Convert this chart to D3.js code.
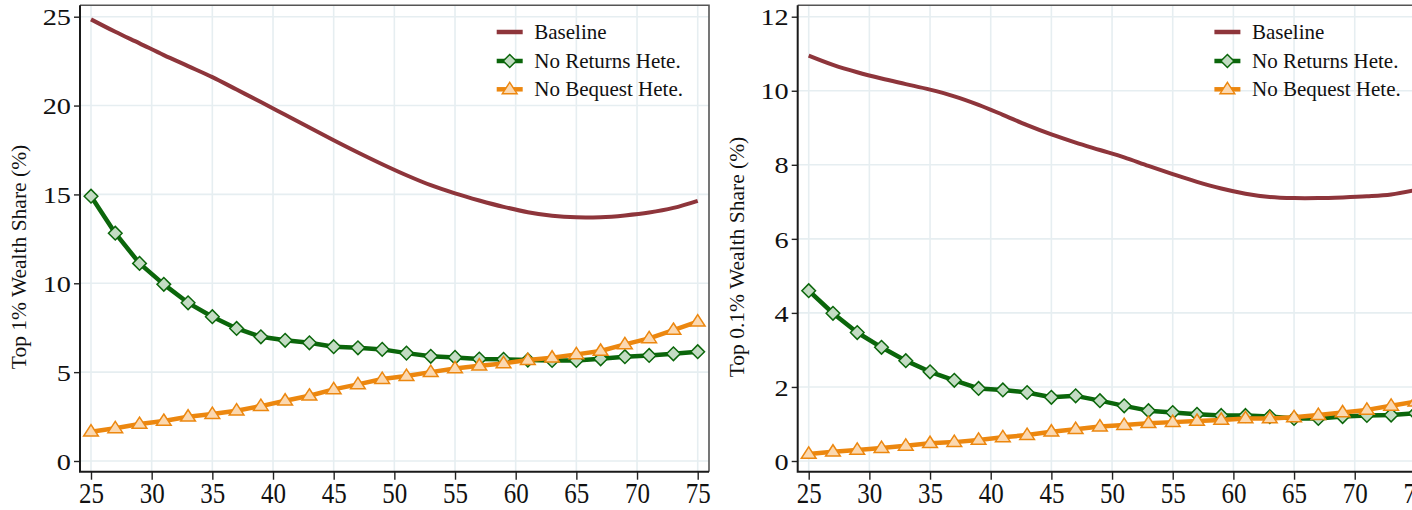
<!DOCTYPE html>
<html>
<head>
<meta charset="utf-8">
<script src="https://cdn.jsdelivr.net/npm/d3@7"></script>
<style>
  body { margin: 0; background: #fff; }
  svg { display: block; }
  text { font-family: "Liberation Serif", "Times New Roman", serif; fill: #111; }
</style>
</head>
<body>
<div id='chart'></div>

<script>
  // ages on the x axis (markers every 2 years)
  var ages = [25, 27, 29, 31, 33, 35, 37, 39, 41, 43, 45, 47, 49, 51, 53, 55, 57, 59, 61, 63, 65, 67, 69, 71, 73, 75]

  // left panel: top 1% wealth share
  var top1Baseline  = [24.85, 24.15, 23.5, 22.84, 22.22, 21.6, 20.9, 20.2, 19.48, 18.76, 18.05, 17.36, 16.7,
                       16.08, 15.52, 15.06, 14.66, 14.3, 14.0, 13.8, 13.71, 13.72, 13.82, 13.98, 14.24, 14.64]
  var top1NoReturns = [14.9, 12.82, 11.12, 9.94, 8.9, 8.12, 7.46, 6.99, 6.79, 6.65, 6.43, 6.37, 6.28,
                       6.07, 5.89, 5.83, 5.74, 5.72, 5.68, 5.66, 5.66, 5.75, 5.87, 5.94, 6.03, 6.15]
  var top1NoBequest = [1.65, 1.84, 2.08, 2.25, 2.49, 2.64, 2.83, 3.09, 3.39, 3.67, 4.03, 4.31, 4.61,
                       4.78, 5.0, 5.21, 5.36, 5.49, 5.68, 5.81, 6.0, 6.19, 6.56, 6.9, 7.37, 7.84]

  // right panel: top 0.1% wealth share
  var top01Baseline  = [10.95, 10.7, 10.5, 10.33, 10.18, 10.03, 9.85, 9.62, 9.35, 9.07, 8.82, 8.6, 8.4,
                        8.2, 7.97, 7.75, 7.54, 7.36, 7.22, 7.13, 7.1, 7.1, 7.12, 7.15, 7.2, 7.32]
  var top01NoReturns = [4.6, 3.99, 3.47, 3.07, 2.71, 2.41, 2.18, 1.96, 1.92, 1.85, 1.72, 1.76, 1.63,
                        1.49, 1.36, 1.31, 1.26, 1.23, 1.23, 1.2, 1.15, 1.15, 1.2, 1.23, 1.24, 1.29]
  var top01NoBequest = [0.19, 0.25, 0.3, 0.35, 0.41, 0.48, 0.51, 0.57, 0.64, 0.7, 0.79, 0.86, 0.93,
                        0.97, 1.02, 1.05, 1.08, 1.11, 1.15, 1.15, 1.18, 1.24, 1.31, 1.38, 1.49, 1.6]

  var xTicks = [25, 30, 35, 40, 45, 50, 55, 60, 65, 70, 75]
  var top1Ticks = [0, 5, 10, 15, 20, 25]
  var top01Ticks = [0, 2, 4, 6, 8, 10, 12]
  var seriesNames = ['Baseline', 'No Returns Hete.', 'No Bequest Hete.']

  var colours = {
    baseline: '#8e353b',
    green: '#0b660b', greenFill: '#c3dcc3',
    orange: '#ec870f', orangeFill: '#fbd8b0',
    grid: '#e6eef1'
  }
  var serif = '"Liberation Serif", "Times New Roman", serif'

  var svg = d3.select('#chart')
              .append('svg')
              .attr('width', 1412)
              .attr('height', 510)

  var frame = { left: 80, right: 709, top: 5.3, bottom: 471.7 }

  function diamond(s) {
    return 'M0,' + (-s) + 'L' + s + ',0L0,' + s + 'L' + (-s) + ',0Z'
  }
  function triangle(s) {
    return 'M0,' + (-s) + 'L' + (s * 1.05) + ',' + (s * 0.62) + 'L' + (-s * 1.05) + ',' + (s * 0.62) + 'Z'
  }

  function drawPanel(offsetX, yMax, yTicks, title, base, noRet, noBeq) {
    var g = svg.append('g').attr('transform', 'translate(' + offsetX + ',0)')

    var x = d3.scaleLinear().domain([25, 75]).range([91, 697.7])
    var y = d3.scaleLinear().domain([0, yMax]).range([461, 16.7])

    // grid
    g.selectAll('.vgrid').data(xTicks).enter().append('line')
     .attr('x1', function(d) { return x(d) }).attr('x2', function(d) { return x(d) })
     .attr('y1', frame.top).attr('y2', frame.bottom)
     .attr('stroke', colours.grid).attr('stroke-width', 1.6)
    g.selectAll('.hgrid').data(yTicks).enter().append('line')
     .attr('x1', frame.left).attr('x2', frame.right)
     .attr('y1', function(d) { return y(d) }).attr('y2', function(d) { return y(d) })
     .attr('stroke', colours.grid).attr('stroke-width', 1.6)

    // frame (top / right lighter)
    g.append('path')
     .attr('d', 'M' + frame.left + ',' + frame.top + 'H' + frame.right + 'V' + frame.bottom)
     .attr('fill', 'none').attr('stroke', '#555').attr('stroke-width', 1.6)

    // axes
    var yAxis = g.append('g')
                 .attr('transform', 'translate(' + frame.left + ',0)')
                 .call(d3.axisLeft(y).tickValues(yTicks).tickSize(6).tickSizeOuter(0))
    yAxis.select('.domain').remove()
    yAxis.selectAll('.tick line').attr('stroke', '#222').attr('stroke-width', 1.4)
    yAxis.selectAll('.tick text')
         .attr('x', null).attr('dy', '0.34em')
         .attr('transform', 'translate(-9,0) scale(1.18,1)')
         .style('font-family', serif)
         .style('font-size', '24px')

    var xAxis = g.append('g')
                 .attr('transform', 'translate(0,' + frame.bottom + ')')
                 .call(d3.axisBottom(x).tickValues(xTicks).tickSize(8).tickSizeOuter(0))
    xAxis.select('.domain').remove()
    xAxis.selectAll('.tick line').attr('stroke', '#222').attr('stroke-width', 1.4)
    xAxis.selectAll('.tick text')
         .attr('y', null).attr('dy', null)
         .attr('transform', 'translate(0,31.5) scale(1,1.15)')
         .style('font-family', serif)
         .style('font-size', '25px')

    g.append('path')
     .attr('d', 'M' + frame.left + ',' + frame.top + 'V' + frame.bottom + 'H' + frame.right)
     .attr('fill', 'none').attr('stroke', '#1a1a1a').attr('stroke-width', 2)

    // y title
    g.append('text')
     .attr('transform', 'translate(26,257) rotate(-90)')
     .attr('text-anchor', 'middle')
     .style('font-size', '21.5px')
     .text(title)

    var line = d3.line().x(function(d, i) { return x(ages[i]) }).y(function(d) { return y(d) })

    g.append('path')
     .attr('d', line.curve(d3.curveCatmullRom)(base))
     .attr('fill', 'none').attr('stroke', colours.baseline).attr('stroke-width', 4)

    line.curve(d3.curveLinear)

    g.append('path')
     .attr('d', line(noRet))
     .attr('fill', 'none').attr('stroke', colours.green).attr('stroke-width', 4.5)
     .attr('stroke-linejoin', 'round')
    g.selectAll('.dia').data(noRet).enter().append('path')
     .attr('transform', function(d, i) { return 'translate(' + x(ages[i]) + ',' + y(d) + ')' })
     .attr('d', diamond(6.8))
     .attr('fill', colours.greenFill).attr('stroke', colours.green).attr('stroke-width', 1.5)

    g.append('path')
     .attr('d', line(noBeq))
     .attr('fill', 'none').attr('stroke', colours.orange).attr('stroke-width', 4.5)
     .attr('stroke-linejoin', 'round')
    g.selectAll('.tri').data(noBeq).enter().append('path')
     .attr('transform', function(d, i) { return 'translate(' + x(ages[i]) + ',' + y(d) + ')' })
     .attr('d', triangle(7))
     .attr('fill', colours.orangeFill).attr('stroke', colours.orange).attr('stroke-width', 1.5)

    // legend
    var legY = [32, 61, 89.3]
    var leg = g.append('g')
    leg.selectAll('line').data(seriesNames).enter().append('line')
       .attr('x1', 496.7).attr('x2', 522.7)
       .attr('y1', function(d, i) { return legY[i] }).attr('y2', function(d, i) { return legY[i] })
       .attr('stroke', function(d, i) { return [colours.baseline, colours.green, colours.orange][i] })
       .attr('stroke-width', 4.5)
    leg.append('path')
       .attr('transform', 'translate(509.7,' + legY[1] + ')')
       .attr('d', diamond(6.5))
       .attr('fill', colours.greenFill).attr('stroke', colours.green).attr('stroke-width', 1.5)
    leg.append('path')
       .attr('transform', 'translate(509.7,' + legY[2] + ')')
       .attr('d', triangle(7))
       .attr('fill', colours.orangeFill).attr('stroke', colours.orange).attr('stroke-width', 1.5)
    leg.selectAll('text').data(seriesNames).enter().append('text')
       .attr('x', 534.3)
       .attr('y', function(d, i) { return legY[i] + 7 })
       .style('font-size', '21px')
       .text(function(d) { return d })
  }

  drawPanel(0, 25, top1Ticks, 'Top 1% Wealth Share (%)', top1Baseline, top1NoReturns, top1NoBequest)
  drawPanel(717.7, 12, top01Ticks, 'Top 0.1% Wealth Share (%)', top01Baseline, top01NoReturns, top01NoBequest)
</script>
</body>
</html>
